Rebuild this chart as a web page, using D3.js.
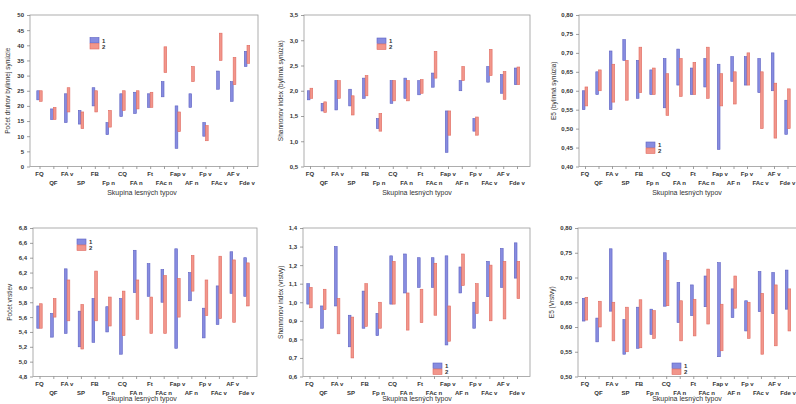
<!DOCTYPE html>
<html>
<head>
<meta charset="utf-8">
<script src="https://cdn.jsdelivr.net/npm/d3@7/dist/d3.min.js"></script>
<style>
  body { margin: 0; background: #fff; }
  svg { display: block; font-family: "Liberation Sans", Arial, sans-serif; }
  .tick text { fill: #333; font-size: 6px; font-weight: bold; }
  .tick line { stroke: #777; stroke-width: 0.7; }
</style>
</head>
<body>
<svg class="chart" width="796" height="404"></svg>
<script>

// skupiny lesnych typov
const categories = ['FQ', 'QF', 'FA v', 'SP', 'FB', 'Fp n', 'CQ', 'FA n', 'Ft', 'FAc n', 'Fap v', 'AF n', 'Fp v', 'FAc v', 'AF v', 'Fde v'];

// pocet druhov bylinnej synuzie [min, max]
const herbCount1 = [[22,25],[15.5,19],[14.5,24],[14,18.5],[20,26],[10.5,14.5],[16.5,24],[17.5,24.5],[19.5,24],[23,28],[6,20],[19.5,24],[10,14.5],[25.5,31.5],[21.5,28],[33,38]];
const herbCount2 = [[21.5,25],[15.5,19.5],[18,26],[12.5,18],[18,25],[13,18.5],[18.5,25],[19,25],[19.5,24.5],[31,39.5],[11.5,18],[28,33],[8.5,13.5],[35,44],[27,36],[34,40]];
const herbCountTicks = [0, 5, 10, 15, 20, 25, 30, 35, 40, 45, 50];

// shannonov index bylinna synuzia
const herbShannon1 = [[1.82,2.0],[1.6,1.75],[1.62,2.2],[1.7,2.03],[1.85,2.25],[1.25,1.45],[1.75,2.2],[1.85,2.25],[1.92,2.2],[2.07,2.35],[0.78,1.6],[2.0,2.2],[1.2,1.45],[2.17,2.48],[1.95,2.32],[2.12,2.45]];
const herbShannon2 = [[1.85,2.05],[1.57,1.78],[1.85,2.2],[1.52,1.9],[1.9,2.3],[1.2,1.55],[1.8,2.2],[1.8,2.2],[1.95,2.22],[2.25,2.78],[1.12,1.6],[2.2,2.48],[1.12,1.48],[2.3,2.82],[1.83,2.38],[2.12,2.47]];
const herbShannonTicks = [0.5, 1.0, 1.5, 2.0, 2.5, 3.0, 3.5];

// E5 bylinna synuzia
const herbE51 = [[0.55,0.60],[0.59,0.65],[0.55,0.705],[0.68,0.735],[0.58,0.68],[0.59,0.655],[0.555,0.685],[0.615,0.71],[0.59,0.66],[0.61,0.685],[0.445,0.67],[0.625,0.69],[0.615,0.69],[0.595,0.685],[0.60,0.70],[0.485,0.575]];
const herbE52 = [[0.56,0.61],[0.60,0.655],[0.57,0.67],[0.575,0.68],[0.595,0.715],[0.59,0.66],[0.535,0.645],[0.585,0.685],[0.59,0.675],[0.58,0.715],[0.56,0.645],[0.565,0.65],[0.615,0.70],[0.50,0.65],[0.475,0.62],[0.50,0.605]];
const herbE5Ticks = [0.40, 0.45, 0.50, 0.55, 0.60, 0.65, 0.70, 0.75, 0.80];

// pocet vrstiev
const layerCount1 = [[5.45,5.75],[5.33,5.65],[5.38,6.25],[5.2,5.68],[5.26,5.85],[5.4,5.74],[5.1,5.85],[5.93,6.5],[5.88,6.32],[5.8,6.24],[5.18,6.52],[5.82,6.2],[5.32,5.72],[5.5,6.02],[5.92,6.48],[5.88,6.4]];
const layerCount2 = [[5.45,5.78],[5.6,5.85],[5.55,6.1],[5.17,5.77],[5.55,6.22],[5.48,5.87],[5.35,5.95],[5.57,6.1],[5.38,5.87],[5.38,6.16],[5.6,6.12],[5.95,6.43],[5.62,6.1],[5.58,6.42],[5.53,6.37],[5.75,6.33]];
const layerCountTicks = [4.8, 5.0, 5.2, 5.4, 5.6, 5.8, 6.0, 6.2, 6.4, 6.6, 6.8];

// shannonov index vrstvy
const layerShannon1 = [[0.99,1.1],[0.86,0.98],[0.98,1.3],[0.76,0.93],[0.86,1.06],[0.82,0.94],[0.99,1.25],[1.05,1.26],[1.08,1.24],[1.08,1.24],[0.77,1.25],[1.05,1.19],[0.86,1.0],[1.03,1.22],[1.08,1.29],[1.13,1.32]];
const layerShannon2 = [[0.97,1.08],[0.96,1.07],[0.83,1.02],[0.7,0.92],[0.87,1.1],[0.86,1.0],[0.99,1.22],[0.85,1.05],[0.89,1.07],[0.93,1.21],[0.79,0.98],[1.09,1.26],[0.94,1.1],[0.9,1.2],[0.91,1.22],[1.02,1.22]];
const layerShannonTicks = [0.6, 0.7, 0.8, 0.9, 1.0, 1.1, 1.2, 1.3, 1.4];

// E5 vrstvy
const layerE51 = [[0.612,0.658],[0.57,0.618],[0.632,0.758],[0.545,0.615],[0.557,0.64],[0.585,0.636],[0.642,0.75],[0.609,0.69],[0.623,0.685],[0.641,0.703],[0.54,0.73],[0.619,0.677],[0.592,0.653],[0.631,0.712],[0.627,0.71],[0.636,0.715]];
const layerE52 = [[0.614,0.66],[0.60,0.652],[0.572,0.65],[0.55,0.64],[0.558,0.655],[0.577,0.633],[0.643,0.734],[0.572,0.653],[0.582,0.656],[0.606,0.717],[0.552,0.646],[0.638,0.703],[0.577,0.65],[0.545,0.668],[0.562,0.685],[0.592,0.677]];
const layerE5Ticks = [0.50, 0.55, 0.60, 0.65, 0.70, 0.75, 0.80];

const seriesNames = ['1', '2'];
const xTitle = 'Skupina lesných typov';

const colors = {
    fill:   ['#878ce0', '#f2968b'],
    stroke: ['#5d61c2', '#e06b61']
};

const comma = d3.formatLocale({ decimal: ',', thousands: ' ', grouping: [3], currency: ['', ''] });

const panels = [
    { s1: herbCount1, s2: herbCount2, ticks: herbCountTicks, fmt: d3.format('d'),
      title: 'Počet druhov bylinnej synúzie',
      x0: 30, x1: 258, first: 39.5, last: 247, top: 15, bottom: 166.5, titleX: 10, xTitleX: 142, xTitleY: 194.5, legend: [90, 37.5] },
    { s1: herbShannon1, s2: herbShannon2, ticks: herbShannonTicks, fmt: comma.format('.1f'),
      title: 'Shannonov index (bylinná synúzia)',
      x0: 304, x1: 530, first: 310, last: 517, top: 15, bottom: 166.5, titleX: 283, xTitleX: 417, xTitleY: 194.5, legend: [377, 38] },
    { s1: herbE51, s2: herbE52, ticks: herbE5Ticks, fmt: comma.format('.2f'),
      title: 'E5 (bylinná synúzia)',
      x0: 579, x1: 801, first: 585, last: 787.5, top: 15, bottom: 166.5, titleX: 556, xTitleX: 687, xTitleY: 194.5, legend: [646, 142] },
    { s1: layerCount1, s2: layerCount2, ticks: layerCountTicks, fmt: comma.format('.1f'),
      title: 'Počet vrstiev',
      x0: 33, x1: 257, first: 39.5, last: 246.5, top: 228, bottom: 376.5, titleX: 12, xTitleX: 142, xTitleY: 401, legend: [77, 239] },
    { s1: layerShannon1, s2: layerShannon2, ticks: layerShannonTicks, fmt: comma.format('.1f'),
      title: 'Shannonov index (vrstvy)',
      x0: 303, x1: 530, first: 309.5, last: 517, top: 228, bottom: 376.5, titleX: 283, xTitleX: 417, xTitleY: 401, legend: [433, 363] },
    { s1: layerE51, s2: layerE52, ticks: layerE5Ticks, fmt: comma.format('.2f'),
      title: 'E5 (Vrstvy)',
      x0: 578, x1: 801, first: 585, last: 788, top: 228, bottom: 376.5, titleX: 554, xTitleX: 687, xTitleY: 401, legend: [672, 363] }
];

const svg = d3.select('svg.chart');

panels.forEach(p => draw_panel(p));

function draw_panel(p) {

    const g = svg.append('g');

    const y = d3.scaleLinear()
        .domain(d3.extent(p.ticks))
        .range([p.bottom, p.top]);

    const x = d3.scalePoint()
        .domain(categories)
        .range([p.first, p.last]);

    // frame
    g.append('rect')
        .attr('x', p.x0)
        .attr('y', p.top)
        .attr('width', p.x1 - p.x0)
        .attr('height', p.bottom - p.top)
        .attr('fill', 'none')
        .attr('stroke', '#9a9a9a')
        .attr('stroke-width', 0.8);

    // y axis
    const yAxis = g.append('g')
        .attr('transform', `translate(${p.x0},0)`)
        .call(d3.axisLeft(y).tickValues(p.ticks).tickFormat(p.fmt).tickSize(3).tickPadding(3));
    yAxis.select('.domain').remove();

    // x axis ticks
    const xAxis = g.append('g')
        .attr('transform', `translate(0,${p.bottom})`)
        .call(d3.axisBottom(x).tickSize(2.5).tickFormat(''));
    xAxis.select('.domain').remove();

    // staggered category labels
    g.selectAll('text.cat')
        .data(categories)
        .join('text')
        .classed('cat', true)
        .attr('x', d => x(d))
        .attr('y', (d, i) => p.bottom + (i % 2 === 0 ? 9.5 : 18))
        .attr('text-anchor', 'middle')
        .attr('font-size', 6)
        .attr('font-weight', 'bold')
        .attr('fill', '#333')
        .text(d => d);

    // axis titles
    g.append('text')
        .attr('x', p.xTitleX)
        .attr('y', p.xTitleY)
        .attr('text-anchor', 'middle')
        .attr('font-size', 7)
        .attr('fill', '#333')
        .text(xTitle);

    g.append('text')
        .attr('transform', `translate(${p.titleX},${(p.top + p.bottom) / 2}) rotate(-90)`)
        .attr('text-anchor', 'middle')
        .attr('font-size', 6.5)
        .attr('fill', '#333')
        .text(p.title);

    // range bars, series 1 left, series 2 right
    [p.s1, p.s2].forEach((series, k) => {

        g.append('g')
            .selectAll('rect')
            .data(series)
            .join('rect')
            .attr('x', (d, i) => x(categories[i]) + (k === 0 ? -2.7 : 0))
            .attr('width', 2.7)
            .attr('y', d => y(d[1]))
            .attr('height', d => y(d[0]) - y(d[1]))
            .attr('fill', colors.fill[k])
            .attr('stroke', colors.stroke[k])
            .attr('stroke-width', 0.6);

    });

    // legend
    const lg = g.append('g').attr('transform', `translate(${p.legend[0]},${p.legend[1]})`);

    seriesNames.forEach((name, k) => {

        lg.append('rect')
            .attr('x', 0)
            .attr('y', k * 6)
            .attr('width', 9)
            .attr('height', 5.5)
            .attr('fill', colors.fill[k])
            .attr('stroke', colors.stroke[k])
            .attr('stroke-width', 0.6);

        lg.append('text')
            .attr('x', 12)
            .attr('y', k * 6 + 5)
            .attr('font-size', 6)
            .attr('font-weight', 'bold')
            .attr('fill', '#333')
            .text(name);

    });

}

</script>
</body>
</html>
